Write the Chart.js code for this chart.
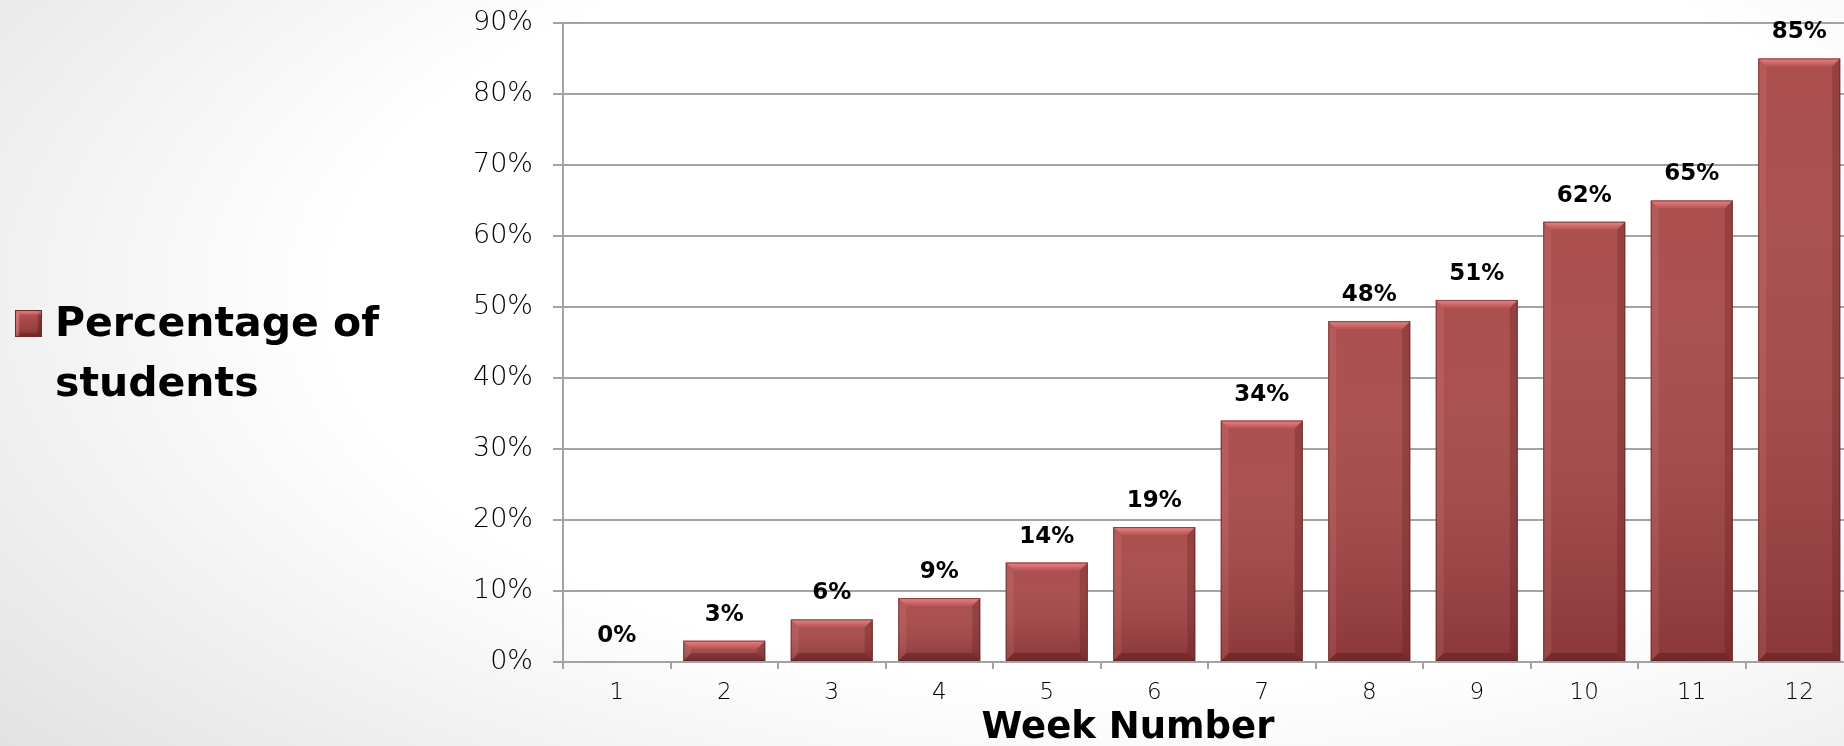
<!DOCTYPE html>
<html lang="en">
<head>
<meta charset="UTF-8">
<title>Percentage of students by week</title>
<script src="https://cdn.jsdelivr.net/npm/chart.js"></script>
<style>
  html, body { margin: 0; padding: 0; width: 1844px; height: 746px; overflow: hidden; }
  body {
    background: radial-gradient(ellipse 80% 95% at 62% 40%, #ffffff 55%, #e2e2e2 100%);
    font-family: 'DejaVu Sans', sans-serif;
  }
  .chart-box { position: absolute; left: 0; top: 0; width: 1853px; height: 746px; }
  .legend-mark {
    position: absolute; left: 15px; top: 310px; width: 27px; height: 27px;
    box-sizing: border-box;
    background: linear-gradient(#b85454, #8c3838);
    border: 1px solid #6d2a2a;
    box-shadow: inset 3px 3px 2px rgba(255,160,160,0.45), inset -3px -3px 2px rgba(60,10,10,0.35);
  }
  .legend-text {
    position: absolute; left: 55px; top: 292px;
    font-weight: bold; font-size: 41px; line-height: 60px; color: #000;
  }
  .axis-title {
    position: absolute; left: 1128px; top: 706px; transform: translateX(-50%);
    font-weight: bold; font-size: 37px; line-height: 40px; color: #000; white-space: nowrap;
  }
</style>
</head>
<body>
  <div class="chart-box"><canvas id="weekChart"></canvas></div>
  <div class="legend-mark"></div>
  <div class="legend-text">Percentage of<br>students</div>
  <div class="axis-title">Week Number</div>

<script>
  // chart data
  const weeks = ['1', '2', '3', '4', '5', '6', '7', '8', '9', '10', '11', '12'];
  const percentStudents = [0, 3, 6, 9, 14, 19, 34, 48, 51, 62, 65, 85];
  const percentTicks = [0, 10, 20, 30, 40, 50, 60, 70, 80, 90];

  const gridGray = '#a3a3a3';

  // bevel look for the bars, drawn on top of the library's own bars
  const bevelPlugin = {
    id: 'bevelPlugin',
    afterDatasetsDraw(chart) {
      const ctx = chart.ctx;
      const meta = chart.getDatasetMeta(0);
      ctx.save();
      meta.data.forEach(bar => {
        const p = bar.getProps(['x', 'y', 'base', 'width'], true);
        const l = p.x - p.width / 2, r = p.x + p.width / 2;
        const t = p.y, b = p.base;
        const h = b - t;
        if (h < 1) return;
        const bv = Math.min(8, h / 2);

        // body shading
        let g = ctx.createLinearGradient(0, t, 0, b);
        g.addColorStop(0, 'rgba(255,255,255,0.04)');
        g.addColorStop(1, 'rgba(40,0,0,0.22)');
        ctx.fillStyle = g;
        ctx.fillRect(l, t, r - l, h);

        // top bevel
        g = ctx.createLinearGradient(0, t, 0, t + bv);
        g.addColorStop(0, '#e88585');
        g.addColorStop(1, '#b95252');
        ctx.fillStyle = g;
        ctx.beginPath();
        ctx.moveTo(l, t); ctx.lineTo(r, t); ctx.lineTo(r - bv, t + bv); ctx.lineTo(l + bv, t + bv);
        ctx.closePath(); ctx.fill();

        // left bevel
        ctx.fillStyle = 'rgba(255,170,170,0.12)';
        ctx.beginPath();
        ctx.moveTo(l, t); ctx.lineTo(l + bv, t + bv); ctx.lineTo(l + bv, b - bv); ctx.lineTo(l, b);
        ctx.closePath(); ctx.fill();

        // right bevel
        ctx.fillStyle = 'rgba(50,0,0,0.18)';
        ctx.beginPath();
        ctx.moveTo(r, t); ctx.lineTo(r - bv, t + bv); ctx.lineTo(r - bv, b - bv); ctx.lineTo(r, b);
        ctx.closePath(); ctx.fill();

        // bottom bevel
        ctx.fillStyle = 'rgba(40,0,0,0.25)';
        ctx.beginPath();
        ctx.moveTo(l, b); ctx.lineTo(l + bv, b - bv); ctx.lineTo(r - bv, b - bv); ctx.lineTo(r, b);
        ctx.closePath(); ctx.fill();

        ctx.strokeStyle = 'rgba(95,35,35,0.7)';
        ctx.lineWidth = 1;
        ctx.strokeRect(l + 0.5, t + 0.5, r - l - 1, h - 1);
      });
      ctx.restore();
    }
  };

  // value labels above each bar
  const valueLabelPlugin = {
    id: 'valueLabelPlugin',
    afterDatasetsDraw(chart) {
      const ctx = chart.ctx;
      const meta = chart.getDatasetMeta(0);
      const values = chart.data.datasets[0].data;
      ctx.save();
      ctx.font = 'bold 23px "DejaVu Sans"';
      ctx.fillStyle = '#000';
      ctx.textAlign = 'center';
      ctx.textBaseline = 'middle';
      meta.data.forEach((bar, i) => {
        ctx.fillText(values[i] + '%', bar.x, bar.y - 26);
      });
      ctx.restore();
    }
  };

  const ctx = document.getElementById('weekChart').getContext('2d');
  new Chart(ctx, {
    type: 'bar',
    data: {
      labels: weeks,
      datasets: [{
        label: 'Percentage of students',
        data: percentStudents,
        backgroundColor: '#a84747',
        borderWidth: 0,
        categoryPercentage: 1,
        barPercentage: 0.763
      }]
    },
    options: {
      responsive: true,
      maintainAspectRatio: false,
      animation: false,
      layout: { padding: { top: 23, left: 0, right: 0, bottom: 0 } },
      plugins: {
        legend: { display: false },
        tooltip: { enabled: false }
      },
      scales: {
        x: {
          afterFit: s => { s.height = 84; s.paddingRight = 0; },
          grid: {
            offset: true,
            drawOnChartArea: false,
            drawTicks: true,
            tickLength: 7,
            color: gridGray,
            lineWidth: 2
          },
          border: { display: true, color: gridGray, width: 2 },
          ticks: {
            color: '#000',
            padding: 10,
            font: { family: 'DejaVu Sans', size: 23, weight: 200 }
          }
        },
        y: {
          min: 0,
          max: 90,
          afterFit: s => { s.width = 563; s.paddingTop = 0; s.paddingBottom = 0; },
          afterBuildTicks: s => { s.ticks = percentTicks.map(v => ({ value: v })); },
          grid: {
            drawTicks: true,
            tickLength: 10,
            color: gridGray,
            lineWidth: 2
          },
          border: { display: true, color: gridGray, width: 2 },
          ticks: {
            color: '#000',
            padding: 20,
            font: { family: 'DejaVu Sans', size: 27, weight: 200 },
            callback: v => v + '%'
          }
        }
      }
    },
    plugins: [bevelPlugin, valueLabelPlugin]
  });
</script>
</body>
</html>
